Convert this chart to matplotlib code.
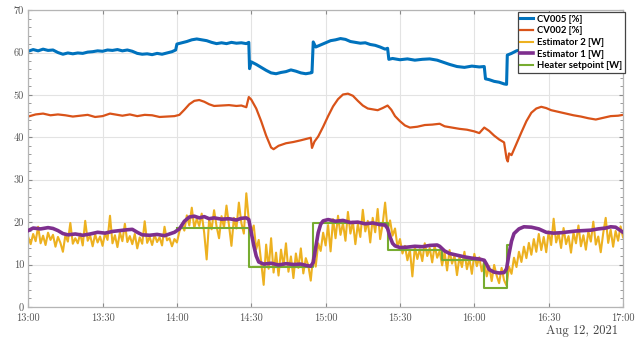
import numpy as np
import matplotlib
matplotlib.use("Agg")
import matplotlib.pyplot as plt

# Time axis in minutes after 13:00
tick_pos = [0, 30, 60, 90, 120, 150, 180, 210, 240]
tick_labels = ["13:00", "13:30", "14:00", "14:30", "15:00",
               "15:30", "16:00", "16:30", "17:00"]
date_label = "Aug 12, 2021"

# CV005 [%]
cv005_t = [0, 2, 4, 6, 8, 10, 12, 14, 16, 18, 20, 22, 24, 26, 28, 30, 32, 34,
           36, 38, 40, 42, 44, 46, 48, 50, 52, 54, 56, 58, 59.5, 60, 62, 64,
           66, 68, 70, 72, 74, 76, 78, 80, 82, 84, 86, 88, 89, 89.3, 90, 92,
           94, 96, 98, 100, 102, 104, 106, 108, 110, 112, 114, 114.5, 115,
           116, 118, 120, 122, 124, 126, 128, 130, 132, 134, 136, 138, 140,
           142, 144, 145, 145.5, 147, 150, 153, 156, 159, 162, 165, 167, 170,
           173, 176, 179, 182, 184, 184.5, 186, 188, 190, 192, 193, 193.3,
           195, 197, 200, 203, 206, 210, 215, 220, 225, 230, 235, 240]
cv005 = [60.3, 60.7, 60.4, 60.8, 60.5, 60.6, 60.0, 59.6, 59.9, 59.7, 59.9,
         59.8, 60.1, 60.2, 60.4, 60.3, 60.6, 60.5, 60.7, 60.4, 60.6, 60.3,
         59.8, 59.6, 59.7, 59.5, 59.8, 59.6, 59.9, 60.2, 60.6, 62.0, 62.3,
         62.6, 63.0, 63.2, 63.0, 62.8, 62.4, 62.1, 62.3, 62.1, 62.4, 62.2,
         62.3, 62.1, 62.4, 56.2, 57.8, 57.2, 56.5, 55.8, 55.2, 55.0, 55.3,
         55.5, 55.9, 55.6, 55.2, 55.0, 55.2, 55.3, 62.5, 61.3, 61.8, 62.3,
         62.8, 63.0, 63.3, 63.1, 62.6, 62.4, 62.2, 62.3, 61.9, 61.7, 61.3,
         60.8, 61.0, 58.4, 58.6, 58.3, 58.5, 58.2, 58.4, 58.5, 58.2, 57.8,
         57.2, 56.7, 56.5, 56.8, 56.6, 56.7, 53.8, 53.6, 53.2, 53.0, 52.6,
         52.5, 59.4, 59.8, 60.4, 60.8, 61.0, 61.2, 61.0, 60.6, 60.8, 60.4,
         60.6, 60.2, 60.4]

# CV002 [%]
cv002_t = [0, 3, 6, 9, 12, 15, 18, 21, 24, 27, 30, 33, 36, 38, 41, 44, 47, 50,
           53, 56, 59, 61, 63, 65, 67, 69, 71, 73, 75, 78, 81, 84, 86, 88, 89,
           90, 92, 94, 96, 98, 99, 101, 104, 107, 110, 112, 114, 114.5, 115.5,
           117, 119, 121, 123, 125, 127, 129, 131, 133, 135, 137, 139, 141,
           143, 145, 146.5, 148, 150, 152, 154, 157, 160, 163, 166, 168, 171,
           174, 177, 180, 182, 184, 186, 188, 190, 192, 193, 193.5, 194, 195,
           197, 199, 201, 203, 205, 207, 209, 211, 214, 217, 220, 223, 226,
           229, 232, 235, 238, 240]
cv002 = [44.9, 45.4, 45.6, 45.2, 45.4, 45.2, 44.9, 45.1, 45.3, 44.8, 45.0,
         45.6, 45.3, 45.1, 45.4, 45.0, 45.3, 45.2, 44.8, 44.9, 45.0, 45.3,
         46.5, 47.8, 48.6, 48.8, 48.4, 47.8, 47.4, 47.5, 47.6, 47.4, 47.5,
         47.1, 49.5, 48.9, 46.8, 43.8, 40.4, 37.6, 37.2, 38.0, 38.6, 38.9,
         39.3, 39.6, 39.9, 37.5, 39.0, 40.2, 42.5, 45.0, 47.3, 49.0, 50.1,
         50.3, 49.8, 48.6, 47.5, 46.8, 46.6, 46.4, 46.9, 47.5, 46.5, 45.0,
         43.8, 42.8, 42.3, 42.5, 42.9, 43.0, 43.2, 42.6, 42.3, 42.0, 41.8,
         41.4, 41.0, 42.3, 41.5, 40.4, 39.5, 38.8, 35.0, 34.3, 36.2, 35.8,
         38.5, 41.2, 43.8, 45.8, 46.8, 47.2, 46.9, 46.4, 46.0, 45.6, 45.2,
         44.9, 44.5, 44.2, 44.6, 45.0, 45.1, 45.3]

# Estimator 2 [W], one value per minute
est2 = [16.5, 14.8, 17.2, 15.5, 18.9, 15.0, 16.8, 14.6, 17.5, 15.8,
        17.0, 14.2, 16.5, 15.1, 13.0, 16.9, 15.4, 19.8, 14.9, 16.2,
        15.0, 17.3, 14.5, 20.3, 15.6, 16.8, 14.3, 17.1, 15.2, 16.6,
        14.4, 17.4, 15.8, 21.5, 15.0, 16.9, 14.1, 17.6, 15.5, 19.6,
        15.3, 16.7, 14.8, 17.2, 13.8, 16.4, 14.9, 20.2, 15.1, 16.5,
        14.6, 17.0, 15.3, 16.4, 14.5, 18.9, 15.7, 16.2, 14.3, 16.0,
        15.2, 17.8, 19.4, 18.0, 21.6, 19.2, 23.4, 18.6, 20.8, 19.1,
        22.0, 17.5, 11.2, 20.6, 18.3, 22.8, 19.0, 16.2, 21.4, 18.7,
        23.9, 19.3, 14.4, 21.0, 18.5, 24.6, 19.8, 17.3, 26.8, 20.5,
        17.5, 19.2, 13.6, 15.8, 10.4, 5.2, 14.7, 9.0, 16.2, 8.1,
        12.8, 7.4, 13.5, 9.6, 15.0, 8.3, 11.9, 6.8, 12.6, 9.2,
        13.8, 7.9, 11.5, 9.8, 6.2,
        12.4, 9.5, 15.0, 13.2, 17.5,
        14.5, 19.3, 13.1, 20.7, 16.2, 21.5, 17.0, 19.8, 15.6, 22.4,
        17.3, 20.1, 14.8, 19.6, 16.5, 22.9, 17.8, 20.3, 15.2, 21.0,
        17.6, 23.1, 16.0, 19.5, 24.6, 18.2, 20.4,
        16.8, 18.5, 14.2, 16.0, 12.6, 14.4, 11.0, 13.5, 7.2,
        14.2, 11.3, 13.6, 10.8, 15.0, 12.0, 13.9, 10.5, 14.5, 11.6, 13.2,
        9.8, 12.9, 8.6, 13.4, 10.2, 12.1, 7.5, 11.8, 9.4, 13.0,
        8.9, 11.4, 7.8, 12.5, 9.6, 11.7, 8.4,
        10.8, 7.2, 9.6, 6.1, 9.9, 7.4, 5.6, 9.2, 6.3,
        5.0, 9.5, 7.8, 11.6, 9.4, 13.0, 10.6, 14.2, 11.5, 15.1,
        12.3, 16.0, 13.0, 17.2, 13.4, 16.5, 12.9, 17.8,
        14.6, 20.8, 15.2, 17.3, 13.9, 18.6, 14.8, 16.7, 12.8, 17.5,
        15.0, 19.2, 14.3, 16.9, 13.5, 17.8, 15.4, 20.1, 14.7, 16.6,
        12.9, 17.4, 21.0, 15.1, 18.2, 14.2, 17.9, 15.6, 19.0, 16.4]

# Estimator 1 [W]
est1_t = [0, 2, 5, 8, 10, 12, 14, 16, 19, 22, 25, 28, 31, 34, 37, 40, 42, 44,
          46, 49, 52, 55, 57, 59, 61, 63, 65, 67, 69, 71, 73, 75, 78, 81, 84,
          86, 88, 89, 90, 91, 92, 93, 95, 98, 101, 104, 107, 110, 112, 114,
          115, 116, 117, 118, 119, 121, 124, 127, 130, 133, 136, 139, 142,
          144, 145, 146, 147, 148, 150, 153, 156, 159, 162, 165, 166, 168,
          170, 173, 176, 179, 182, 184, 185, 186, 188, 190, 192, 193, 194,
          195, 196, 198, 200, 203, 206, 209, 212, 215, 218, 221, 224, 227,
          230, 233, 235, 237, 239, 240]
est1 = [18.0, 18.6, 18.4, 18.7, 18.5, 18.0, 17.3, 17.0, 17.2, 16.9, 17.2,
        17.6, 17.4, 17.8, 18.0, 18.2, 18.3, 17.6, 17.0, 16.9, 17.1, 16.8,
        17.2, 17.6, 18.4, 20.2, 21.2, 21.4, 21.0, 21.3, 20.8, 21.0, 20.7,
        20.8, 20.5, 20.9, 21.0, 20.6, 17.5, 14.5, 12.0, 10.6, 10.1, 10.3,
        9.9, 10.2, 10.0, 10.1, 9.8, 9.6, 10.5, 14.0, 17.5, 19.5, 20.3, 20.6,
        20.2, 20.4, 19.9, 20.0, 19.6, 19.8, 19.4, 19.3, 18.5, 16.5, 15.0,
        14.4, 14.0, 14.1, 14.3, 14.2, 14.5, 14.6, 14.3, 13.2, 12.6, 12.2,
        11.8, 11.5, 11.3, 11.0, 10.0, 8.8, 8.2, 8.0, 8.1, 9.0, 12.5, 15.5,
        17.3, 18.4, 18.9, 18.8, 18.4, 17.6, 17.4, 17.5, 17.7, 17.9, 18.0,
        18.1, 18.4, 18.6, 18.9, 18.8, 18.0, 17.6]

# Heater setpoint [W]
heater_t = [60, 89, 115, 145, 167, 184, 193, 194]
heater = [18.5, 9.3, 19.9, 13.4, 11.0, 4.4, 14.5, 14.5]

fig = plt.figure(figsize=(6.41, 3.38), dpi=100)
ax = fig.add_axes([0.044, 0.092, 0.928, 0.878])

ax.plot(cv005_t, cv005, color="#0072BD", lw=2.2, label="CV005 [%]")
ax.plot(cv002_t, cv002, color="#D95319", lw=1.6, label="CV002 [%]")
ax.plot(np.arange(len(est2)), est2, color="#EDB120", lw=1.5,
        label="Estimator 2 [W]")
ax.plot(heater_t, heater, color="#77AC30", lw=1.5, drawstyle="steps-post",
        label="Heater setpoint [W]", zorder=3)
ax.plot(est1_t, est1, color="#7E2F8E", lw=2.6, label="Estimator 1 [W]",
        zorder=4)

ax.set_xlim(0, 240)
ax.set_ylim(0, 70)
ax.set_xticks(tick_pos)
ax.set_xticklabels(tick_labels)
ax.set_yticks(range(0, 71, 10))
ax.set_yticks(range(0, 71, 2), minor=True)
ax.grid(True, color="#e3e3e3", lw=0.8)
ax.set_axisbelow(True)
ax.tick_params(which="both", direction="in", top=True, right=True,
               colors="#8a8a8a", labelcolor="#555555", labelsize=7.5)
ax.tick_params(which="major", length=3)
ax.tick_params(which="minor", length=2)
ax.tick_params(axis="x", pad=5)
ax.tick_params(axis="y", pad=3)
for lab in ax.get_xticklabels() + ax.get_yticklabels():
    lab.set_family(["cmr10", "DejaVu Serif"])
for sp in ax.spines.values():
    sp.set_color("#b5b5b5")
    sp.set_linewidth(0.9)

fig.text(0.964, 0.004, date_label, ha="right", va="bottom", fontsize=9,
         family=["cmr10", "DejaVu Serif"], color="#444444")

# legend in the order of the original
h, l = ax.get_legend_handles_labels()
order = [0, 1, 2, 4, 3]
leg = ax.legend([h[i] for i in order], [l[i] for i in order],
                loc="upper right", bbox_to_anchor=(1.003, 0.994),
                borderaxespad=0, fancybox=False, framealpha=1,
                edgecolor="#444444", handlelength=1.3, handletextpad=0.45,
                labelspacing=0.28, borderpad=0.3,
                prop={"family": "Lato", "weight": "bold", "size": 6.8})
leg.get_frame().set_linewidth(0.9)
leg.set_zorder(10)

fig.savefig("out.png", dpi=100)
